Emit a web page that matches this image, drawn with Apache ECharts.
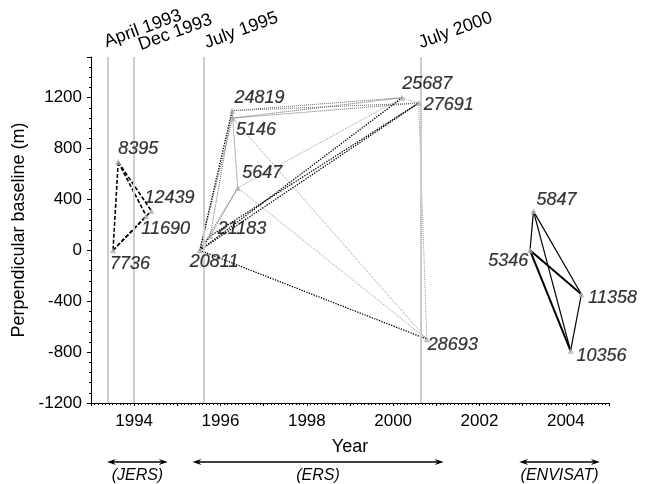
<!DOCTYPE html>
<html><head><meta charset="utf-8">
<script src="https://cdn.jsdelivr.net/npm/echarts@6/dist/echarts.min.js"></script>
<style>html,body{margin:0;padding:0;background:#fff}#c{width:652px;height:484px}</style>
</head><body><div id="c"></div>
<script>
// ---- data ----
const xTickLabels = [1994, 1996, 1998, 2000, 2002, 2004];
const yTickLabels = [-1200, -800, -400, 0, 400, 800, 1200];

const jersNames = ['7736', '8395', '11690', '12439'];
const jersYear = [1993.51, 1993.63, 1994.28, 1994.40];
const jersBaseline = [0, 695, 270, 310];

const ersNames = ['20811', '21183', '24819', '5146', '5647', '25687', '27691', '28693'];
const ersYear = [1995.52, 1995.76, 1996.27, 1996.28, 1996.40, 2000.21, 2000.59, 2000.78];
const ersBaseline = [0, 112, 1098, 1040, 491, 1200, 1158, -698];

const envNames = ['5346', '5847', '11358', '10356'];
const envYear = [2003.17, 2003.25, 2004.36, 2004.11];
const envBaseline = [0, 308, -345, -790];

const jersPairs = [['8395', '7736'], ['7736', '11690'], ['7736', '12439'], ['8395', '12439'], ['8395', '11690']];
const ersDarkPairs = [['20811', '24819'], ['20811', '25687'], ['20811', '27691'], ['21183', '27691'], ['20811', '28693'], ['20811', '21183']];
const ersGrayPairs = [['20811', '5146'], ['20811', '5647'], ['21183', '24819'], ['21183', '5647'], ['24819', '25687'], ['24819', '27691'], ['5146', '25687'], ['5146', '27691'], ['24819', '5146'], ['24819', '5647']];
const ersLightPairs = [['5146', '28693'], ['5647', '28693'], ['5647', '25687'], ['27691', '28693'], ['25687', '27691']];
const envPairs = [['5847', '5346'], ['5847', '11358'], ['5847', '10356'], ['11358', '10356']];
const envBoldPairs = [['5346', '11358'], ['5346', '10356']];

const eventNames = ['April 1993', 'Dec 1993', 'July 1995', 'July 2000'];
const eventYear = [1993.39, 1994.0, 1995.62, 2000.63];

const missionNames = ['(JERS)', '(ERS)', '(ENVISAT)'];
const missionStart = [1993.37, 1995.35, 2002.92];
const missionEnd = [1994.78, 2001.17, 2004.79];

// ---- styling / layout (not data) ----
const FONT = 'Liberation Sans, Arial, sans-serif';
const labelPlace = {
  '8395': ['left', 0, -13], '12439': ['left', -7, -12.5], '11690': ['left', -5, 13.3], '7736': ['left', -3, 13.3],
  '20811': ['left', -10, 12], '21183': ['left', 7.5, -6.7], '5647': ['left', 4.4, -15], '24819': ['left', 2.3, -12.6],
  '5146': ['left', 3.4, 11.6], '25687': ['left', 0, -14], '27691': ['left', 5, 1.6], '28693': ['left', 1, 6],
  '5847': ['left', 3, -11], '5346': ['right', -1.7, 10.7], '11358': ['left', 7, 4], '10356': ['left', 6, 5]
};
const eventOffset = [[0, -6], [8, -3], [4, -5], [2, -5]];

const Y_MAX = 1520;
const pos = {};
function reg(names, xs, ys) { names.forEach((n, i) => { pos[n] = [xs[i], ys[i]]; }); }
reg(jersNames, jersYear, jersBaseline);
reg(ersNames, ersYear, ersBaseline);
reg(envNames, envYear, envBaseline);

function edges(pairs) { return pairs.map(p => ({ coords: [pos[p[0]], pos[p[1]]] })); }
function linesSeries(pairs, style) {
  return { type: 'lines', coordinateSystem: 'cartesian2d', polyline: false, silent: true,
    data: edges(pairs), lineStyle: Object.assign({ opacity: 1, curveness: 0 }, style), z: 3 };
}
function pointData(names) {
  return names.map(n => {
    const lp = labelPlace[n];
    return { value: pos[n], name: n,
      label: { show: true, position: 'inside', align: lp[0], verticalAlign: 'middle', offset: [lp[1], lp[2]] } };
  });
}

const chart = echarts.init(document.getElementById('c'), null, { renderer: 'canvas' });
const allNames = jersNames.concat(ersNames, envNames);

chart.setOption({
  animation: false,
  backgroundColor: '#fff',
  textStyle: { fontFamily: FONT },
  grid: { left: 91, right: 43, top: 57, bottom: 81, containLabel: false },
  xAxis: {
    type: 'value', min: 1993, max: 2005, interval: 1,
    name: 'Year', nameLocation: 'middle', nameGap: 35,
    nameTextStyle: { fontSize: 18, color: '#000', fontFamily: FONT },
    axisLine: { show: true, onZero: false, lineStyle: { color: '#000', width: 1 } },
    axisTick: { show: true, length: 3, lineStyle: { color: '#000' } },
    minorTick: { show: true, splitNumber: 12, length: 2, lineStyle: { color: '#000' } },
    axisLabel: { fontSize: 17, color: '#000', margin: 10, fontFamily: FONT,
      formatter: v => (xTickLabels.indexOf(v) >= 0 ? String(v) : '') },
    splitLine: { show: false }
  },
  yAxis: {
    type: 'value', min: yTickLabels[0], max: Y_MAX, interval: 400,
    name: 'Perpendicular baseline (m)', nameLocation: 'middle', nameGap: 62,
    nameTextStyle: { fontSize: 18, color: '#000', fontFamily: FONT },
    axisLine: { show: true, onZero: false, lineStyle: { color: '#000', width: 1 } },
    axisTick: { show: true, length: 4, lineStyle: { color: '#000' } },
    minorTick: { show: true, splitNumber: 5, length: 2, lineStyle: { color: '#000' } },
    axisLabel: { fontSize: 17, color: '#000', margin: 9, fontFamily: FONT,
      formatter: v => (yTickLabels.indexOf(v) >= 0 ? String(v) : '') },
    splitLine: { show: false }
  },
  series: [
    { type: 'scatter', symbolSize: 0, data: eventYear.map(y => [y, Y_MAX]), silent: true, z: 1,
      markLine: { silent: true, symbol: 'none', label: { show: false },
        lineStyle: { color: '#cccccc', width: 2, type: 'solid' },
        data: eventYear.map(y => ({ xAxis: y })) } },
    linesSeries(ersLightPairs, { color: '#9a9a9a', width: 1, type: 'dotted' }),
    linesSeries(ersGrayPairs, { color: '#6a6a6a', width: 1, type: 'dotted' }),
    linesSeries(ersDarkPairs, { color: '#000', width: 1.3, type: 'dotted' }),
    linesSeries(jersPairs, { color: '#000', width: 1.6, type: [4, 2] }),
    linesSeries(envPairs, { color: '#000', width: 1.2, type: 'solid' }),
    linesSeries(envBoldPairs, { color: '#000', width: 2, type: 'solid' }),
    { type: 'scatter', symbol: 'triangle', symbolSize: 6, z: 5, clip: false,
      itemStyle: { color: '#b0b0b0' },
      label: { show: true, formatter: p => p.name, fontSize: 18, fontStyle: 'italic', color: '#000',
        textBorderWidth: 0.2, textBorderColor: '#000', fontFamily: FONT },
      data: pointData(allNames) }
  ]
});

// annotations placed through the chart's own scales
const g = [];
const topY = chart.convertToPixel({ gridIndex: 0 }, [1993, Y_MAX])[1];
const botY = chart.convertToPixel({ gridIndex: 0 }, [1993, yTickLabels[0]])[1];
eventYear.forEach((yr, i) => {
  const px = chart.convertToPixel({ gridIndex: 0 }, [yr, Y_MAX])[0];
  g.push({ type: 'text', x: px + eventOffset[i][0], y: topY + eventOffset[i][1], rotation: 20 * Math.PI / 180,
    style: { text: eventNames[i], fontSize: 18, fontFamily: FONT, fill: '#000', textAlign: 'left', textVerticalAlign: 'bottom' } });
});
const arrowY = botY + 59, textY = botY + 73;
function head(x, y, dir) {
  return { type: 'polygon', shape: { points: [[x, y], [x - dir * 9, y - 3], [x - dir * 6, y], [x - dir * 9, y + 3]] }, style: { fill: '#000' } };
}
missionNames.forEach((m, i) => {
  const x1 = chart.convertToPixel({ gridIndex: 0 }, [missionStart[i], 0])[0];
  const x2 = chart.convertToPixel({ gridIndex: 0 }, [missionEnd[i], 0])[0];
  g.push({ type: 'line', shape: { x1: x1 + 4, y1: arrowY, x2: x2 - 4, y2: arrowY }, style: { stroke: '#000', lineWidth: 1.3 } });
  g.push(head(x1, arrowY, -1));
  g.push(head(x2, arrowY, 1));
  g.push({ type: 'text', x: (x1 + x2) / 2, y: textY,
    style: { text: m, fontSize: 16, fontStyle: 'italic', fontFamily: FONT, fill: '#000', textAlign: 'center', textVerticalAlign: 'middle' } });
});
chart.setOption({ graphic: g });
</script>
</body></html>
